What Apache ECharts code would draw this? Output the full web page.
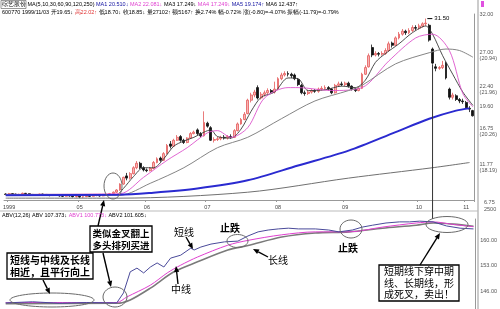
<!DOCTYPE html>
<html><head><meta charset="utf-8">
<script src="https://cdn.jsdelivr.net/npm/echarts@6/dist/echarts.min.js"></script>
<style>html,body{margin:0;padding:0;background:#fff}#c{width:500px;height:309px}</style>
</head><body><div id="c"></div>
<script>
// ---------- data ----------
const monthLabels = ['1999','05','06','07','08','09','10','11'];
const monthStart  = [1, 22, 42, 60, 81, 101, 123, 137];

// [open, close, low, high]
const candles = [
[7.85,7.80,7.70,7.95],[7.80,7.90,7.75,8.00],[7.90,7.85,7.75,7.95],[7.85,7.75,7.65,7.90],[7.75,7.80,7.70,7.90],
[7.80,7.95,7.75,8.05],[7.95,7.90,7.80,8.00],[7.90,7.80,7.70,7.95],[7.80,7.70,7.60,7.85],[7.70,7.75,7.60,7.85],
[7.75,7.85,7.70,7.90],[7.85,7.80,7.70,7.90],[7.80,7.70,7.60,7.85],[7.70,7.65,7.55,7.75],[7.65,7.75,7.60,7.80],
[7.75,7.70,7.60,7.80],[7.70,7.60,7.50,7.75],[7.60,7.55,7.45,7.65],[7.55,7.65,7.50,7.70],[7.65,7.60,7.50,7.70],
[7.60,7.50,7.40,7.65],[7.50,7.55,7.40,7.60],[7.55,7.45,7.35,7.60],[7.45,7.50,7.35,7.55],[7.50,7.60,7.45,7.65],
[7.60,7.55,7.45,7.70],[7.55,7.65,7.50,7.75],[7.65,7.70,7.55,7.80],[7.70,7.60,7.50,7.75],[7.60,7.70,7.55,7.80],
[7.70,7.75,7.60,7.85],[7.75,7.90,7.70,8.00],[7.90,8.10,7.85,8.20],[8.10,8.40,8.00,8.50],[8.40,9.20,8.30,9.30],
[9.20,10.10,9.10,10.20],[10.30,10.00,9.70,10.70],[10.00,10.60,9.80,10.80],[10.60,11.40,10.50,11.60],[11.40,12.00,11.20,12.30],
[12.00,11.40,11.20,12.20],[11.40,11.10,10.90,11.60],[11.10,11.00,10.80,11.30],[11.00,11.30,10.90,11.50],[11.30,12.10,11.20,12.30],
[12.10,12.60,12.00,12.80],[12.70,12.40,12.20,12.90],[12.40,13.30,12.30,13.50],[13.30,14.40,13.20,14.60],[14.60,14.30,14.00,15.00],
[14.30,15.10,14.20,15.30],[15.10,15.50,15.00,15.80],[15.60,15.10,14.90,15.80],[15.10,14.80,14.60,15.30],[14.80,15.40,14.70,15.50],
[15.40,16.00,15.30,16.20],[16.00,16.20,15.90,16.40],[16.50,16.00,15.80,16.70],[16.00,15.70,15.50,16.20],[15.70,17.50,15.60,19.00],
[17.40,17.00,16.80,17.60],[16.80,15.10,15.00,17.00],[15.10,15.20,14.80,15.50],[15.20,15.30,15.00,15.60],[15.30,15.50,15.10,15.70],
[15.50,15.40,15.20,15.80],[15.40,15.60,15.20,15.80],[15.60,15.50,15.30,15.90],[15.50,16.40,15.40,16.60],[16.40,17.30,16.30,17.50],
[17.30,17.90,17.20,18.10],[17.90,18.60,17.80,18.90],[18.70,20.50,18.60,20.70],[20.50,21.20,20.20,21.50],[21.20,21.60,20.90,21.90],
[22.20,20.80,20.60,22.50],[20.80,21.30,20.60,21.60],[21.30,21.50,21.00,21.80],[21.50,21.80,21.30,22.10],[21.80,21.60,21.40,22.00],
[21.60,22.00,21.40,23.00],[22.00,23.40,21.90,23.60],[23.40,23.90,23.20,24.20],[23.90,24.10,23.70,24.40],[24.10,24.00,23.70,24.40],
[24.00,23.80,23.50,24.20],[23.90,23.40,23.20,24.10],[23.30,22.60,22.40,23.50],[22.50,21.50,21.30,22.70],[21.50,21.40,21.10,21.80],
[21.40,21.60,21.20,21.90],[21.60,21.80,21.40,22.00],[21.80,21.70,21.50,22.00],[21.70,22.00,21.50,22.20],[22.00,22.10,21.80,22.40],
[22.10,22.20,21.90,22.50],[22.20,22.00,21.80,22.40],[22.00,21.50,21.30,22.10],[21.50,22.50,21.40,22.70],[22.50,22.70,22.30,23.00],
[22.70,22.60,22.40,23.00],[22.60,22.80,22.40,23.00],[22.80,22.40,22.20,23.00],[22.40,22.00,21.80,22.50],[22.00,21.80,21.60,22.20],
[21.80,22.10,21.70,22.30],[22.10,24.00,22.00,24.20],[24.00,24.90,23.90,25.20],[25.00,26.50,24.90,26.80],[27.60,26.60,26.30,28.00],
[26.60,26.80,26.40,27.10],[26.80,26.70,26.40,27.00],[26.70,26.80,26.50,27.10],[26.80,27.20,26.60,27.50],[27.20,28.10,27.00,28.40],
[28.20,27.90,27.60,28.40],[27.90,28.90,27.80,29.10],[28.90,29.40,28.70,29.70],[29.40,29.80,29.20,30.10],[29.80,29.60,29.30,30.00],
[29.60,29.90,29.40,30.20],[29.90,30.30,29.70,30.60],[30.30,30.20,29.90,30.60],[30.20,30.50,30.00,30.80],[30.50,30.80,30.30,31.00],
[30.80,30.90,30.50,31.50],[30.60,28.60,28.40,30.80],[27.40,25.50,25.30,27.60],[25.00,24.80,24.40,25.40],[24.80,24.90,24.60,25.10],
[24.90,25.20,24.70,25.80],[25.50,23.50,23.30,25.70],[22.00,20.90,20.60,22.20],[20.90,21.20,20.60,21.50],[21.10,20.60,20.40,21.30],
[20.60,20.40,20.10,20.80],[20.40,20.30,20.00,20.70],[20.20,19.50,19.30,20.40],[19.40,19.30,18.90,19.70],[19.10,18.40,18.30,19.20]
];

// moving averages: [candle index, value]
const ma5 = [[0,7.8],[33,7.8],[35,8.6],[38,10.2],[41,11.4],[44,11.4],[47,12.6],[50,14.3],[53,15.0],[56,15.5],[59,16.2],[61,16.5],[63,15.6],[67,15.4],[70,16.6],[73,19.0],[76,20.9],[80,21.6],[84,23.5],[87,23.4],[90,21.8],[95,21.9],[100,22.4],[104,22.2],[107,23.2],[110,25.6],[113,26.8],[117,28.1],[121,29.6],[125,30.5],[127,29.4],[130,26.5],[133,24.0],[136,21.6],[139,19.8]];
const ma10 = [[0,7.8],[34,7.9],[41,10.1],[48,12.4],[54,14.1],[60,16.1],[63,16.4],[67,15.5],[72,16.8],[77,20.8],[84,22.2],[87,22.2],[97,21.8],[106,22.2],[114,25.8],[122,28.9],[127,29.4],[132,27.2],[136,21.4],[139,19.6]];
const ma30 = [[0,7.8],[34,7.7],[43,9.3],[53,11.4],[63,14.1],[72,15.5],[82,18.0],[92,20.4],[102,21.8],[106,22.5],[116,25.4],[126,26.9],[131,27.4],[135,27.2],[139,26.3]];
const ma120 = [[0,7.7],[34,7.75],[43,8.0],[57,8.6],[72,9.7],[87,11.7],[102,13.7],[116,16.2],[126,18.0],[134,19.1],[138,19.4]];
const ma250 = [[0,7.3],[34,7.3],[72,8.1],[102,10.0],[127,11.4],[138,12.1]];

// ABV indicator lines
const abvShort = [[0,143.0],[8,143.3],[16,142.9],[24,143.1],[33,143.0],[35,145.7],[37,151.4],[39,152.4],[41,151.1],[43,152.7],[45,153.8],[47,152.7],[49,155.1],[52,155.9],[55,157.8],[56,157.3],[58,158.1],[61,158.9],[65,159.5],[69,159.7],[72,161.1],[75,162.2],[78,162.7],[81,163.0],[84,163.2],[87,163.0],[92,163.0],[96,162.7],[99,162.2],[103,162.7],[106,163.5],[109,164.0],[113,164.6],[117,164.9],[120,164.9],[123,165.1],[127,164.9],[131,163.8],[135,163.2],[139,163.0]];
const abvMid = [[0,143.1],[33,143.1],[36,144.6],[43,147.8],[48,151.1],[52,153.2],[57,155.4],[66,158.6],[72,159.9],[82,161.4],[92,162.2],[102,162.2],[112,163.5],[122,164.6],[127,164.9],[133,164.2],[139,163.6]];
const abvLong = [[0,142.8],[33,142.9],[37,143.8],[43,147.0],[50,151.4],[57,154.1],[66,157.3],[72,158.5],[82,160.8],[92,161.9],[102,162.2],[112,163.2],[122,164.0],[127,164.6],[133,164.3],[139,163.7]];

const priceTicks = [11.77, 16.75, 19.60, 22.40, 27.00, 32.00];
const priceTickPct = ['(18.19)', '(20.26)', '', '(21.96)', '(20.94)', ''];
const abvTicks = [146, 153, 160];

const headerLine1 = ['综艺股份','MA(5,10,30,60,90,120,250)','MA1 20.510↓','MA2 22.081↓','MA3 17.249↓','MA4 17.249↓','MA5 19.174↑','MA6 12.437↑'];
const headerLine2 = ['600770 1999/11/03','开19.65↓','高22.02↑','低18.70↓','收18.85↓','量27102↑','额5167↑','换2.74%','幅-0.72%','涨(-0.80)=-4.07%','振幅(-11.79)=-0.79%'];
const abvHeader = ['ABV(12,26)','ABV 107.373↓','ABV1 100.773↓','ABV2 101.605↓'];

const categories = candles.map((_, i) => String(i));
const cursorIndex = 127;

// ---------- chart ----------
const chart = echarts.init(document.getElementById('c'), null, {renderer: 'canvas'});
const NUM = '"Liberation Sans", "DejaVu Sans", sans-serif';
const CJK = '"Noto Sans CJK SC", sans-serif';

const option = {
  animation: false,
  backgroundColor: '#fff',
  grid: [
    {left: 4, top: 14, width: 474, height: 186},
    {left: 4, top: 219, width: 474, height: 90}
  ],
  xAxis: [
    {type: 'category', gridIndex: 0, data: categories, boundaryGap: true,
     axisLine: {lineStyle: {color: '#999', width: 1}},
     axisTick: {show: true, length: 2, interval: (i) => monthStart.includes(i), lineStyle: {color: '#999'}},
     axisLabel: {interval: (i) => monthStart.includes(i), formatter: (v, i) => { const k = monthStart.indexOf(i); return k >= 0 ? monthLabels[k] : ''; },
                 fontSize: 5.5, color: '#444', margin: 4, fontFamily: NUM},
     splitLine: {show: false}},
    {type: 'category', gridIndex: 1, data: categories, boundaryGap: true,
     axisLine: {show: false}, axisTick: {show: false}, axisLabel: {show: false}, splitLine: {show: false}}
  ],
  yAxis: [
    {type: 'value', gridIndex: 0, position: 'right', min: 7.05, max: 32.12,
     axisLine: {show: true, lineStyle: {color: '#999'}}, axisTick: {show: false}, splitLine: {show: false},
     axisLabel: {customValues: priceTicks, fontSize: 5.5, color: '#555', margin: 5, lineHeight: 6, fontFamily: NUM,
                 formatter: (v) => { const k = priceTicks.findIndex(t => Math.abs(t - v) < 1e-6); const p = k >= 0 ? priceTickPct[k] : ''; return p ? '\n' + v.toFixed(2) + '\n' + p : v.toFixed(2); }}},
    {type: 'value', gridIndex: 1, position: 'right', min: 141.35, max: 165.68,
     axisLine: {show: true, lineStyle: {color: '#999'}}, axisTick: {show: false}, splitLine: {show: false},
     axisLabel: {customValues: abvTicks, fontSize: 5.5, color: '#555', margin: 5, fontFamily: NUM, formatter: (v) => v.toFixed(2)}}
  ],
  series: [
    {type: 'candlestick', xAxisIndex: 0, yAxisIndex: 0, data: candles, barWidth: 2.4,
     itemStyle: {color: '#f7b4b4', borderColor: '#e55a5a', color0: '#111', borderColor0: '#111', borderWidth: 0.8},
     markPoint: {symbol: 'rect', symbolSize: [5, 1], symbolOffset: [4, 0], silent: true,
       itemStyle: {color: '#000'},
       label: {show: true, position: 'right', distance: 2, fontSize: 6, color: '#000', fontFamily: NUM, formatter: (p) => p.value.toFixed(2)},
       data: [{type: 'max', valueDim: 'highest'}]}},
    {type: 'line', name: 'MA5', xAxisIndex: 0, yAxisIndex: 0, data: ma5, showSymbol: false, smooth: 0.3, lineStyle: {color: '#3a3a3a', width: 0.9}, z: 3},
    {type: 'line', name: 'MA10', xAxisIndex: 0, yAxisIndex: 0, data: ma10, showSymbol: false, smooth: 0.3, lineStyle: {color: '#dd55cc', width: 0.9}, z: 3},
    {type: 'line', name: 'MA30', xAxisIndex: 0, yAxisIndex: 0, data: ma30, showSymbol: false, smooth: 0.3, lineStyle: {color: '#858585', width: 1}, z: 3},
    {type: 'line', name: 'MA120', xAxisIndex: 0, yAxisIndex: 0, data: ma120, showSymbol: false, smooth: 0.3, lineStyle: {color: '#2a2ad0', width: 2}, z: 3},
    {type: 'line', name: 'MA250', xAxisIndex: 0, yAxisIndex: 0, data: ma250, showSymbol: false, smooth: 0.3, lineStyle: {color: '#707070', width: 1}, z: 3},
    {type: 'line', name: 'ABV', xAxisIndex: 1, yAxisIndex: 1, data: abvShort, showSymbol: false, smooth: false, lineStyle: {color: '#4a4a9a', width: 1}, z: 5},
    {type: 'line', name: 'ABV1', xAxisIndex: 1, yAxisIndex: 1, data: abvMid, showSymbol: false, smooth: 0.3, lineStyle: {color: '#e040d0', width: 1}, z: 4},
    {type: 'line', name: 'ABV2', xAxisIndex: 1, yAxisIndex: 1, data: abvLong, showSymbol: false, smooth: 0.3, lineStyle: {color: '#7a7a7a', width: 1.6}, z: 3}
  ]
};
chart.setOption(option);

// ---------- annotations ----------
function arrow(x1, y1, x2, y2) {
  const a = Math.atan2(y2 - y1, x2 - x1), L = 6, W = 2.6;
  const bx = x2 - L * Math.cos(a), by = y2 - L * Math.sin(a);
  return [
    {type: 'line', shape: {x1, y1, x2: bx, y2: by}, style: {stroke: '#000', lineWidth: 1.4}, z: 50},
    {type: 'polygon', shape: {points: [[x2, y2], [bx + W * Math.sin(a), by - W * Math.cos(a)], [bx - W * Math.sin(a), by + W * Math.cos(a)]]}, style: {fill: '#000'}, z: 50}
  ];
}
function ell(cx, cy, rx, ry) {
  return {type: 'ellipse', shape: {cx, cy, rx, ry}, style: {fill: null, stroke: '#6a6a6a', lineWidth: 1}, z: 40};
}
function box(x, y, w, h, lines, size, bold, lh) {
  const els = [{type: 'rect', shape: {x, y, width: w, height: h}, style: {fill: '#fff', stroke: '#000', lineWidth: 1.3}, z: 45}];
  const top = y + h / 2 - (lines.length * lh) / 2 + lh / 2;
  lines.forEach((t, i) => els.push({type: 'text', z: 46, style: {text: t, x: x + w / 2, y: top + i * lh, align: 'center', verticalAlign: 'middle',
    font: (bold ? 'bold ' : '') + size + 'px ' + CJK, fill: '#000'}}));
  return els;
}
function label(t, x, y, size, bold) {
  return {type: 'text', z: 46, style: {text: t, x, y, align: 'center', verticalAlign: 'middle', font: (bold ? 'bold ' : '') + size + 'px ' + CJK, fill: '#000'}};
}
function richLine(parts, colors, x, y) {
  let text = '', rich = {};
  parts.forEach((p, i) => { const k = 's' + i; rich[k] = {fill: colors[i], font: '5.5px ' + NUM}; text += '{' + k + '|' + p + '}' + (i < parts.length - 1 ? '{sp| }' : ''); });
  rich.sp = {font: '5.5px ' + NUM};
  return {type: 'text', z: 60, style: {text, rich, x, y, verticalAlign: 'middle', font: '5.5px ' + NUM, fill: '#000'}};
}

const cur = chart.convertToPixel({xAxisIndex: 0, yAxisIndex: 0}, [cursorIndex, candles[cursorIndex][2]]);

const g = [];
// frame & separators
g.push({type: 'line', shape: {x1: 478, y1: 0, x2: 478, y2: 309}, style: {stroke: '#999', lineWidth: 1}, z: 1});
g.push({type: 'line', shape: {x1: 0, y1: 211, x2: 478, y2: 211}, style: {stroke: '#bbb', lineWidth: 1}, z: 1});
g.push({type: 'rect', shape: {x: 481, y: 1, width: 3, height: 6}, style: {fill: '#e050e0'}, z: 1});
g.push({type: 'text', style: {text: '6.75', x: 484, y: 202, verticalAlign: 'middle', font: '5.5px ' + NUM, fill: '#555'}});
g.push({type: 'text', style: {text: '2500', x: 484, y: 209, verticalAlign: 'middle', font: '5.5px ' + NUM, fill: '#555'}});
// header
g.push({type: 'rect', shape: {x: 1, y: 0.5, width: 25, height: 8}, style: {fill: null, stroke: '#555', lineWidth: 0.6}, z: 59});
g.push(richLine(headerLine1, ['#000','#000','#1010a0','#e040d0','#000','#e040d0','#1010a0','#000'], 2, 4.5));
g.push(richLine(headerLine2, ['#000','#000','#e03030','#000','#000','#000','#000','#000','#000','#000','#000'], 2, 12.5));
g.push(richLine(abvHeader, ['#000','#000','#e040d0','#000'], 2, 215));
// cursor line
g.push({type: 'line', shape: {x1: cur[0], y1: cur[1], x2: cur[0], y2: 219}, style: {stroke: '#333', lineWidth: 1}, z: 30});
// ellipses
g.push(ell(113, 186, 9, 13));
g.push(ell(52, 300, 42, 7));
g.push(ell(115, 297, 12, 10));
g.push(ell(237.5, 241, 10.5, 6.5));
g.push(ell(351, 229, 11, 9));
g.push(ell(447, 224.5, 21, 8));
// boxes
g.push(...box(7, 253, 86, 26, ['短线与中线及长线', '相近，且平行向上'], 10, true, 12));
g.push(...box(90, 226, 62, 26, ['类似金叉翻上', '多头排列买进'], 9.5, true, 12));
g.push(...box(379, 265, 80, 36, ['短期线下穿中期', '线、长期线，形', '成死叉，卖出！'], 10, false, 11.5));
// labels
g.push(label('短线', 184, 232, 10, false));
g.push(label('止跌', 230, 228, 10, true));
g.push(label('中线', 181, 289, 10, false));
g.push(label('长线', 278, 260, 10, false));
g.push(label('止跌', 348, 248, 10, true));
// arrows
g.push(...arrow(43, 280, 50, 294));
g.push(...arrow(98, 226, 104, 200));
g.push(...arrow(103, 253, 111, 287));
g.push(...arrow(186, 237, 193, 249));
g.push(...arrow(178, 284, 176, 266));
g.push(...arrow(268, 257, 253, 249));
g.push(...arrow(420, 265, 440, 233));

chart.setOption({graphic: g});
</script></body></html>
